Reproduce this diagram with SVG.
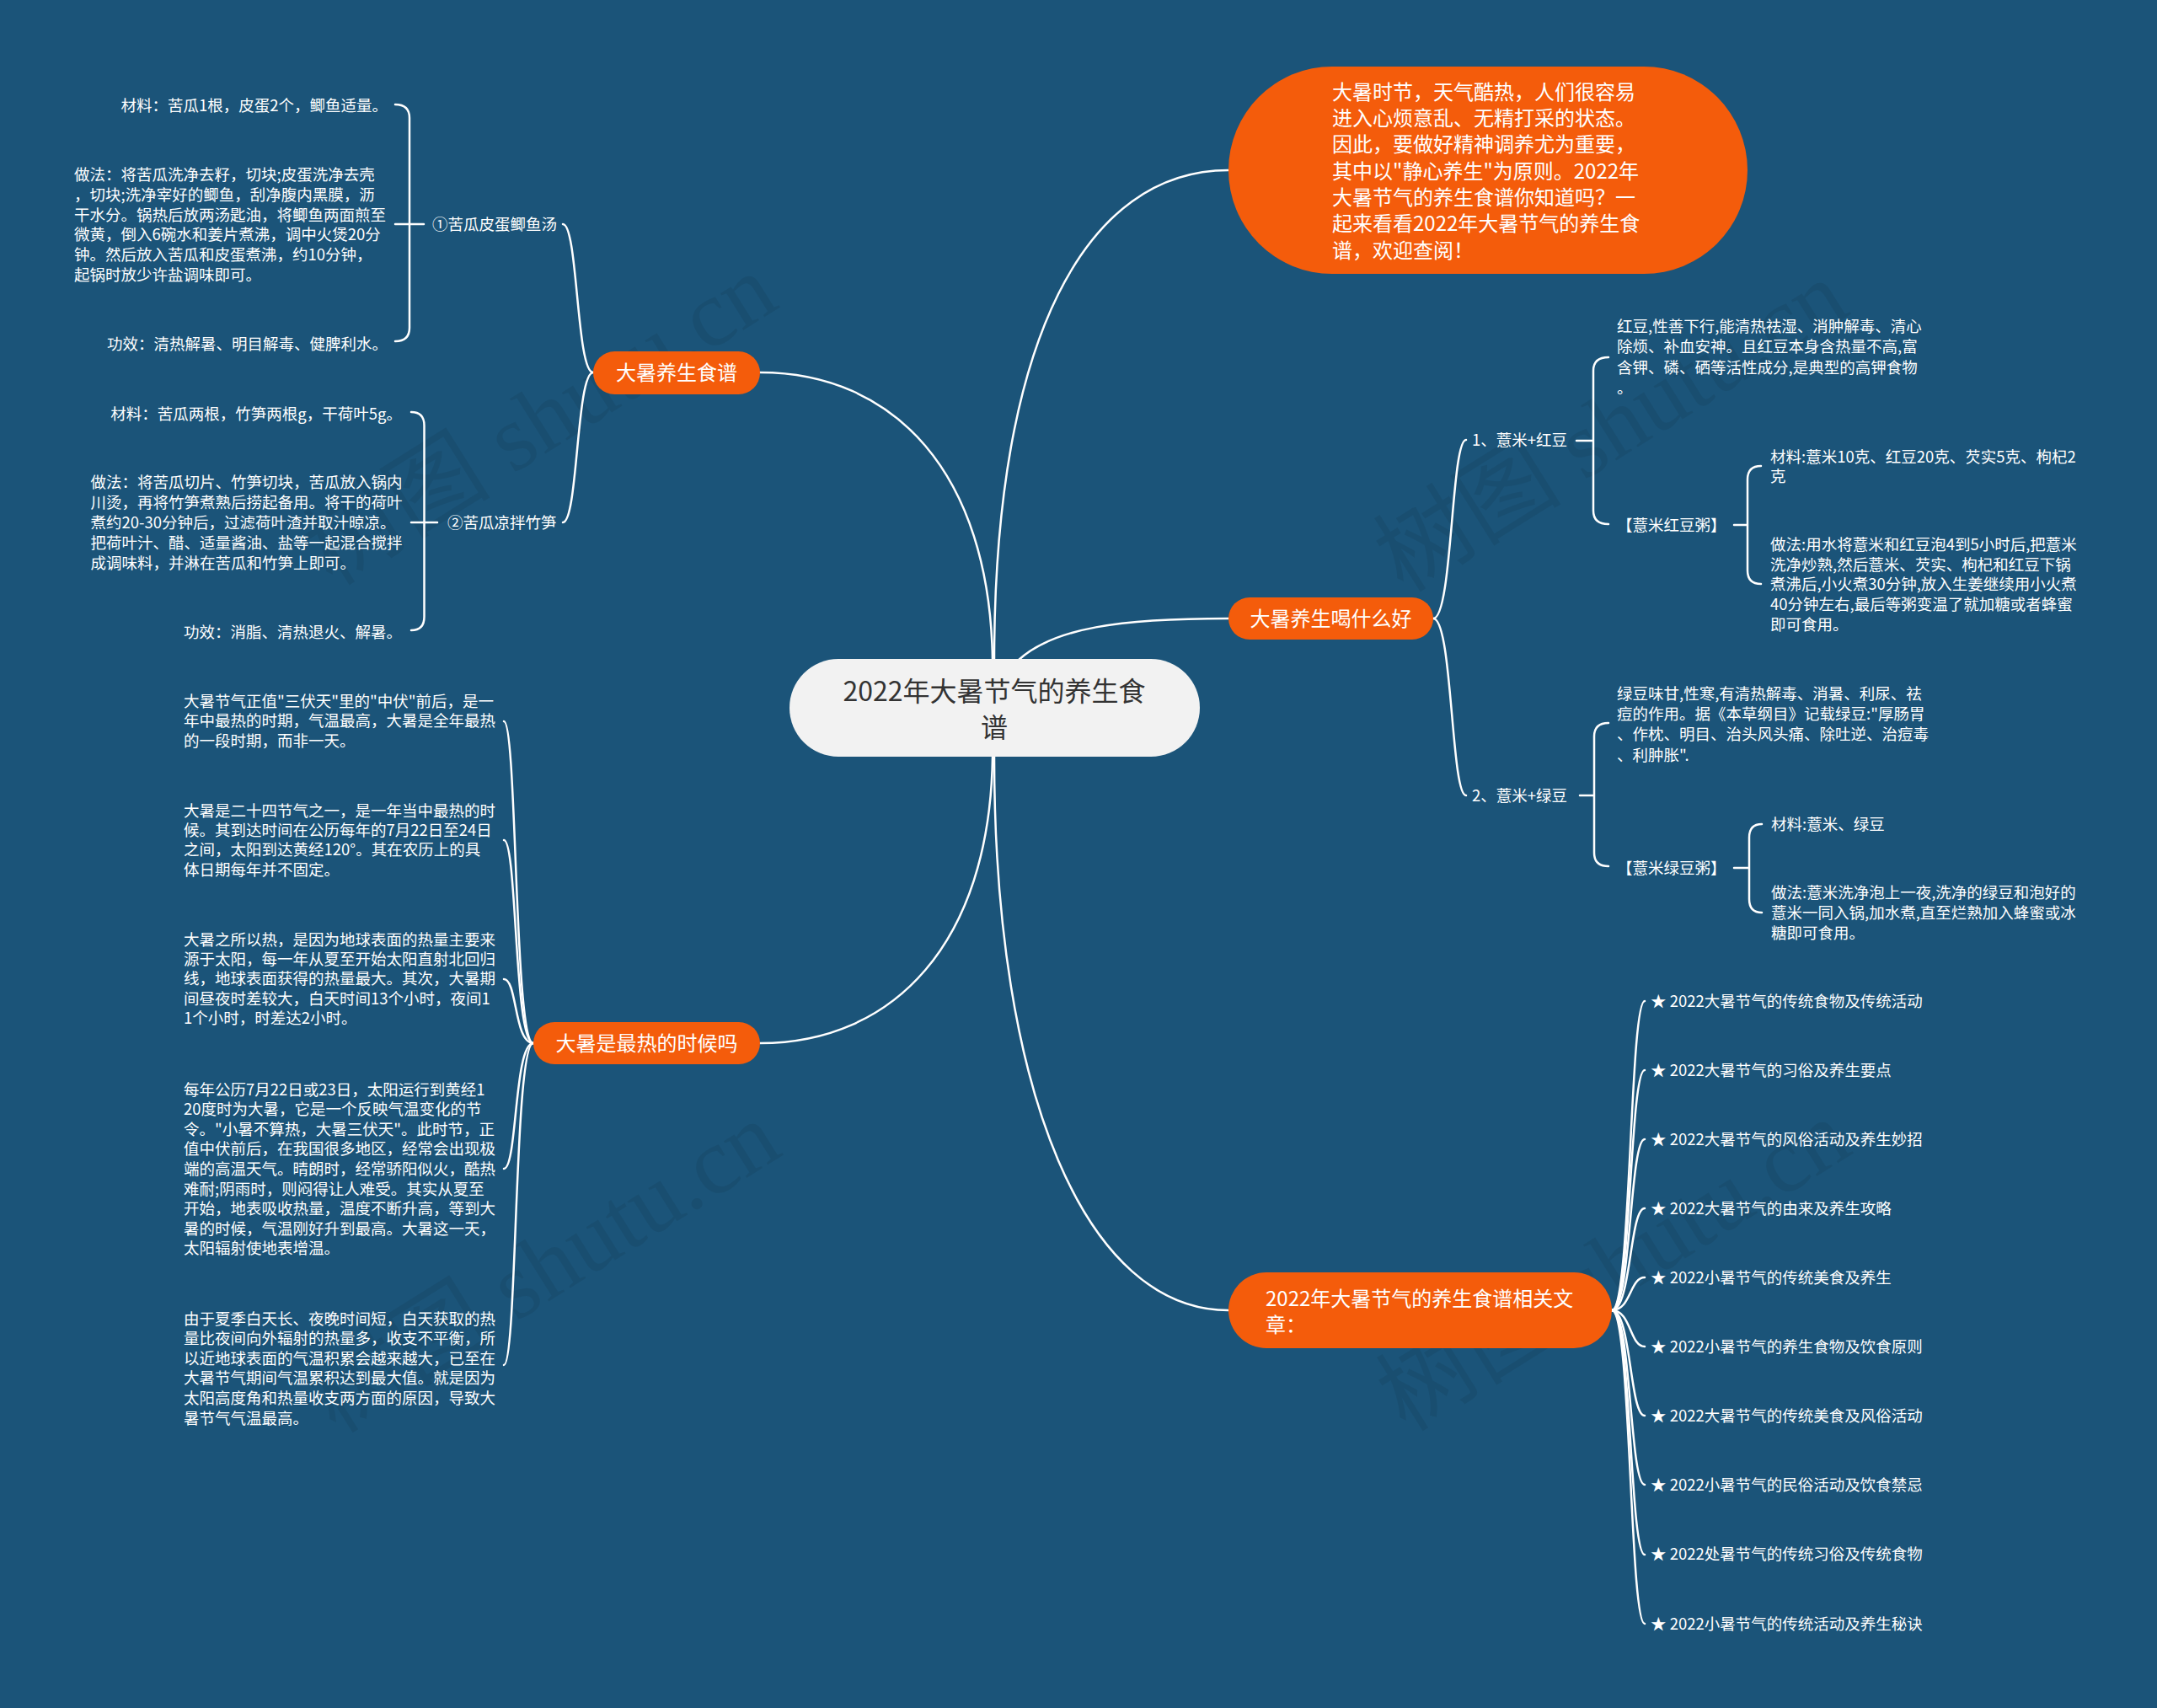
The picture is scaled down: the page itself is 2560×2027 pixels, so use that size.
<svg xmlns="http://www.w3.org/2000/svg" width="2560" height="2027" viewBox="0 0 2560 2027">
<style>
.t{font-family:"Noto Sans CJK SC","Noto Sans",sans-serif;fill:#ffffff}
.s{font-size:18.5px}
.m{font-size:24px}
.ctr{font-family:"Noto Sans CJK SC","Noto Sans",sans-serif;font-size:32px;fill:#333333}
.pill{fill:#f45c0b}
.c{fill:none;stroke:#ffffff;stroke-width:2.5;stroke-linecap:round}
.wm{font-family:"Liberation Serif","Noto Sans CJK SC",serif;font-size:112px;fill:#000000;fill-opacity:0.07}
</style>
<rect x="0" y="0" width="2560" height="2027" fill="#1b5479"/>

<g id="watermarks">
<text class="wm" text-anchor="middle" transform="translate(661,530) rotate(-32)">树图 shutu.cn</text>
<text class="wm" text-anchor="middle" transform="translate(1932,538) rotate(-32)">树图 shutu.cn</text>
<text class="wm" text-anchor="middle" transform="translate(665,1536) rotate(-32)">树图 shutu.cn</text>
<text class="wm" text-anchor="middle" transform="translate(1935,1534) rotate(-32)">树图 shutu.cn</text>
</g>

<g id="connectors">
<path class="c" d="M1180 784 C1180 400 1290 202 1458 202"/>
<path class="c" d="M1208 784 C1250 745 1330 734 1458 734"/>
<path class="c" d="M1180 898 C1180 1300 1290 1555 1458 1555"/>
<path class="c" d="M902 442 C1060 442 1175 560 1178 784"/>
<path class="c" d="M902 1238 C1060 1238 1175 1120 1178 898"/>

<path class="c" d="M704 442 C684 442 686 266 668 266"/>
<path class="c" d="M704 442 C684 442 686 620 668 620"/>
<path class="c" d="M469 124 Q486 124 486 140 L486 389 Q486 405 469 405 M469 266 L503 266"/>
<path class="c" d="M488 489 Q503.5 489 503.5 505 L503.5 732 Q503.5 748 488 748 M488 620 L519 620"/>

<path class="c" d="M633 1238 C610 1238 614 856 598 856"/>
<path class="c" d="M633 1238 C610 1238 614 997 598 997"/>
<path class="c" d="M633 1238 C610 1238 614 1162 598 1162"/>
<path class="c" d="M633 1238 C610 1238 614 1387 598 1387"/>
<path class="c" d="M633 1238 C610 1238 614 1620 598 1620"/>

<path class="c" d="M1701 734 C1724 734 1722 522 1740 522"/>
<path class="c" d="M1701 734 C1724 734 1722 944 1740 944"/>
<path class="c" d="M1909 424 Q1891 424 1891 440 L1891 606 Q1891 622 1909 622 M1871 523 L1891 523"/>
<path class="c" d="M1909 858 Q1892 858 1892 874 L1892 1012 Q1892 1028 1909 1028 M1875 944 L1892 944"/>
<path class="c" d="M2090 553 Q2074 553 2074 569 L2074 677 Q2074 693 2090 693 M2058 623 L2074 623"/>
<path class="c" d="M2091 978 Q2076 978 2076 994 L2076 1067 Q2076 1083 2091 1083 M2058 1030 L2076 1030"/>

<path class="c" d="M1913 1555 C1936 1555 1934 1188 1952 1188"/>
<path class="c" d="M1913 1555 C1936 1555 1934 1270 1952 1270"/>
<path class="c" d="M1913 1555 C1936 1555 1934 1352 1952 1352"/>
<path class="c" d="M1913 1555 C1936 1555 1934 1434 1952 1434"/>
<path class="c" d="M1913 1555 C1936 1555 1934 1516 1952 1516"/>
<path class="c" d="M1913 1555 C1936 1555 1934 1598 1952 1598"/>
<path class="c" d="M1913 1555 C1936 1555 1934 1680 1952 1680"/>
<path class="c" d="M1913 1555 C1936 1555 1934 1762 1952 1762"/>
<path class="c" d="M1913 1555 C1936 1555 1934 1845 1952 1845"/>
<path class="c" d="M1913 1555 C1936 1555 1934 1927 1952 1927"/>
</g>

<g id="center">
<rect x="937" y="782" width="487" height="116" rx="58" ry="58" fill="#f2f2f2"/>
<text class="ctr" text-anchor="middle"><tspan x="1180" y="831.5">2022年大暑节气的养生食</tspan><tspan x="1180" y="874.5">谱</tspan></text>
</g>

<g id="intro">
<rect x="1458" y="79" width="616" height="246" rx="123" ry="123" class="pill"/>
<text class="t m"><tspan x="1581" y="117.6">大暑时节，天气酷热，人们很容易</tspan><tspan x="1581" y="148.9">进入心烦意乱、无精打采的状态。</tspan><tspan x="1581" y="180.2">因此，要做好精神调养尤为重要，</tspan><tspan x="1581" y="211.6">其中以"静心养生"为原则。2022年</tspan><tspan x="1581" y="242.9">大暑节气的养生食谱你知道吗？一</tspan><tspan x="1581" y="274.2">起来看看2022年大暑节气的养生食</tspan><tspan x="1581" y="305.6">谱，欢迎查阅！</tspan></text>
</g>

<g id="branch-recipes">
<rect x="704" y="417" width="198" height="51" rx="25.5" class="pill"/>
<text class="t m" x="803" y="451" text-anchor="middle">大暑养生食谱</text>
</g>

<g id="recipe1">
<text class="t s" x="513" y="272.6">①苦瓜皮蛋鲫鱼汤</text>
</g>
<g id="recipe1-material"><text class="t s" x="460" y="131.6" text-anchor="end">材料：苦瓜1根，皮蛋2个，鲫鱼适量。</text></g>
<g id="recipe1-method"><text class="t s"><tspan x="88" y="213.6">做法：将苦瓜洗净去籽，切块;皮蛋洗净去壳</tspan><tspan x="88" y="237.6">，切块;洗净宰好的鲫鱼，刮净腹内黑膜，沥</tspan><tspan x="88" y="261.6">干水分。锅热后放两汤匙油，将鲫鱼两面煎至</tspan><tspan x="88" y="285.3">微黄，倒入6碗水和姜片煮沸，调中火煲20分</tspan><tspan x="88" y="309.2">钟。然后放入苦瓜和皮蛋煮沸，约10分钟，</tspan><tspan x="88" y="333.1">起锅时放少许盐调味即可。</tspan></text></g>
<g id="recipe1-effect"><text class="t s" x="460" y="414.6" text-anchor="end">功效：清热解暑、明目解毒、健脾利水。</text></g>

<g id="recipe2">
<text class="t s" x="531" y="626.6">②苦瓜凉拌竹笋</text>
</g>
<g id="recipe2-material"><text class="t s" x="477" y="497.6" text-anchor="end">材料：苦瓜两根，竹笋两根g，干荷叶5g。</text></g>
<g id="recipe2-method"><text class="t s"><tspan x="107.5" y="578.6">做法：将苦瓜切片、竹笋切块，苦瓜放入锅内</tspan><tspan x="107.5" y="602.6">川烫，再将竹笋煮熟后捞起备用。将干的荷叶</tspan><tspan x="107.5" y="626.6">煮约20-30分钟后，过滤荷叶渣并取汁晾凉。</tspan><tspan x="107.5" y="650.6">把荷叶汁、醋、适量酱油、盐等一起混合搅拌</tspan><tspan x="107.5" y="674.6">成调味料，并淋在苦瓜和竹笋上即可。</tspan></text></g>
<g id="recipe2-effect"><text class="t s" x="477" y="756.6" text-anchor="end">功效：消脂、清热退火、解暑。</text></g>

<g id="branch-hottest">
<rect x="633" y="1213" width="269" height="50" rx="25" class="pill"/>
<text class="t m" x="767.5" y="1246.6" text-anchor="middle">大暑是最热的时候吗</text>
</g>
<g id="hot1"><text class="t s"><tspan x="218" y="838.6">大暑节气正值"三伏天"里的"中伏"前后，是一</tspan><tspan x="218" y="862.1">年中最热的时期，气温最高，大暑是全年最热</tspan><tspan x="218" y="885.6">的一段时期，而非一天。</tspan></text></g>
<g id="hot2"><text class="t s"><tspan x="218" y="968.6">大暑是二十四节气之一，是一年当中最热的时</tspan><tspan x="218" y="991.9">候。其到达时间在公历每年的7月22日至24日</tspan><tspan x="218" y="1015.2">之间，太阳到达黄经120°。其在农历上的具</tspan><tspan x="218" y="1038.6">体日期每年并不固定。</tspan></text></g>
<g id="hot3"><text class="t s"><tspan x="218" y="1121.6">大暑之所以热，是因为地球表面的热量主要来</tspan><tspan x="218" y="1144.9">源于太阳，每一年从夏至开始太阳直射北回归</tspan><tspan x="218" y="1168.2">线，地球表面获得的热量最大。其次，大暑期</tspan><tspan x="218" y="1191.6">间昼夜时差较大，白天时间13个小时，夜间1</tspan><tspan x="218" y="1214.9">1个小时，时差达2小时。</tspan></text></g>
<g id="hot4"><text class="t s"><tspan x="218" y="1299.6">每年公历7月22日或23日，太阳运行到黄经1</tspan><tspan x="218" y="1323.2">20度时为大暑，它是一个反映气温变化的节</tspan><tspan x="218" y="1346.8">令。"小暑不算热，大暑三伏天"。此时节，正</tspan><tspan x="218" y="1370.4">值中伏前后，在我国很多地区，经常会出现极</tspan><tspan x="218" y="1394">端的高温天气。晴朗时，经常骄阳似火，酷热</tspan><tspan x="218" y="1417.6">难耐;阴雨时，则闷得让人难受。其实从夏至</tspan><tspan x="218" y="1441.2">开始，地表吸收热量，温度不断升高，等到大</tspan><tspan x="218" y="1464.8">暑的时候，气温刚好升到最高。大暑这一天，</tspan><tspan x="218" y="1488.4">太阳辐射使地表增温。</tspan></text></g>
<g id="hot5"><text class="t s"><tspan x="218" y="1571.6">由于夏季白天长、夜晚时间短，白天获取的热</tspan><tspan x="218" y="1595.2">量比夜间向外辐射的热量多，收支不平衡，所</tspan><tspan x="218" y="1618.8">以近地球表面的气温积累会越来越大，已至在</tspan><tspan x="218" y="1642.4">大暑节气期间气温累积达到最大值。就是因为</tspan><tspan x="218" y="1666">太阳高度角和热量收支两方面的原因，导致大</tspan><tspan x="218" y="1689.6">暑节气气温最高。</tspan></text></g>

<g id="branch-drinks">
<rect x="1458" y="709" width="243" height="50" rx="25" class="pill"/>
<text class="t m" x="1579.5" y="742.6" text-anchor="middle">大暑养生喝什么好</text>
</g>
<g id="drink1"><text class="t s" x="1747" y="528.6">1、薏米+红豆</text></g>
<g id="drink1-desc"><text class="t s"><tspan x="1919" y="393.6">红豆,性善下行,能清热祛湿、消肿解毒、清心</tspan><tspan x="1919" y="418.1">除烦、补血安神。且红豆本身含热量不高,富</tspan><tspan x="1919" y="442.6">含钾、磷、硒等活性成分,是典型的高钾食物</tspan><tspan x="1919" y="467.1">。</tspan></text></g>
<g id="drink1-porridge"><text class="t s" x="1919" y="629.6">【薏米红豆粥】</text></g>
<g id="drink1-material"><text class="t s"><tspan x="2101" y="548.6">材料:薏米10克、红豆20克、芡实5克、枸杞2</tspan><tspan x="2101" y="572.1">克</tspan></text></g>
<g id="drink1-method"><text class="t s"><tspan x="2101" y="652.6">做法:用水将薏米和红豆泡4到5小时后,把薏米</tspan><tspan x="2101" y="676.5">洗净炒熟,然后薏米、芡实、枸杞和红豆下锅</tspan><tspan x="2101" y="700.4">煮沸后,小火煮30分钟,放入生姜继续用小火煮</tspan><tspan x="2101" y="724.3">40分钟左右,最后等粥变温了就加糖或者蜂蜜</tspan><tspan x="2101" y="748.2">即可食用。</tspan></text></g>

<g id="drink2"><text class="t s" x="1747" y="950.6">2、薏米+绿豆</text></g>
<g id="drink2-desc"><text class="t s"><tspan x="1919" y="829.6">绿豆味甘,性寒,有清热解毒、消暑、利尿、祛</tspan><tspan x="1919" y="853.9">痘的作用。据《本草纲目》记载绿豆:"厚肠胃</tspan><tspan x="1919" y="878.2">、作枕、明目、治头风头痛、除吐逆、治痘毒</tspan><tspan x="1919" y="902.6">、利肿胀".</tspan></text></g>
<g id="drink2-porridge"><text class="t s" x="1919" y="1036.6">【薏米绿豆粥】</text></g>
<g id="drink2-material"><text class="t s" x="2102" y="984.6">材料:薏米、绿豆</text></g>
<g id="drink2-method"><text class="t s"><tspan x="2102" y="1065.6">做法:薏米洗净泡上一夜,洗净的绿豆和泡好的</tspan><tspan x="2102" y="1089.6">薏米一同入锅,加水煮,直至烂熟加入蜂蜜或冰</tspan><tspan x="2102" y="1113.6">糖即可食用。</tspan></text></g>

<g id="branch-related">
<rect x="1458" y="1510" width="455" height="90" rx="45" class="pill"/>
<text class="t m"><tspan x="1502" y="1549.6">2022年大暑节气的养生食谱相关文</tspan><tspan x="1502" y="1580.6">章：</tspan></text>
</g>
<g id="rel1"><text class="t s" x="1959" y="1194.6">★ 2022大暑节气的传统食物及传统活动</text></g>
<g id="rel2"><text class="t s" x="1959" y="1276.7">★ 2022大暑节气的习俗及养生要点</text></g>
<g id="rel3"><text class="t s" x="1959" y="1358.8">★ 2022大暑节气的风俗活动及养生妙招</text></g>
<g id="rel4"><text class="t s" x="1959" y="1440.9">★ 2022大暑节气的由来及养生攻略</text></g>
<g id="rel5"><text class="t s" x="1959" y="1523">★ 2022小暑节气的传统美食及养生</text></g>
<g id="rel6"><text class="t s" x="1959" y="1605.1">★ 2022小暑节气的养生食物及饮食原则</text></g>
<g id="rel7"><text class="t s" x="1959" y="1687.2">★ 2022大暑节气的传统美食及风俗活动</text></g>
<g id="rel8"><text class="t s" x="1959" y="1769.3">★ 2022小暑节气的民俗活动及饮食禁忌</text></g>
<g id="rel9"><text class="t s" x="1959" y="1851.4">★ 2022处暑节气的传统习俗及传统食物</text></g>
<g id="rel10"><text class="t s" x="1959" y="1933.5">★ 2022小暑节气的传统活动及养生秘诀</text></g>
</svg>
